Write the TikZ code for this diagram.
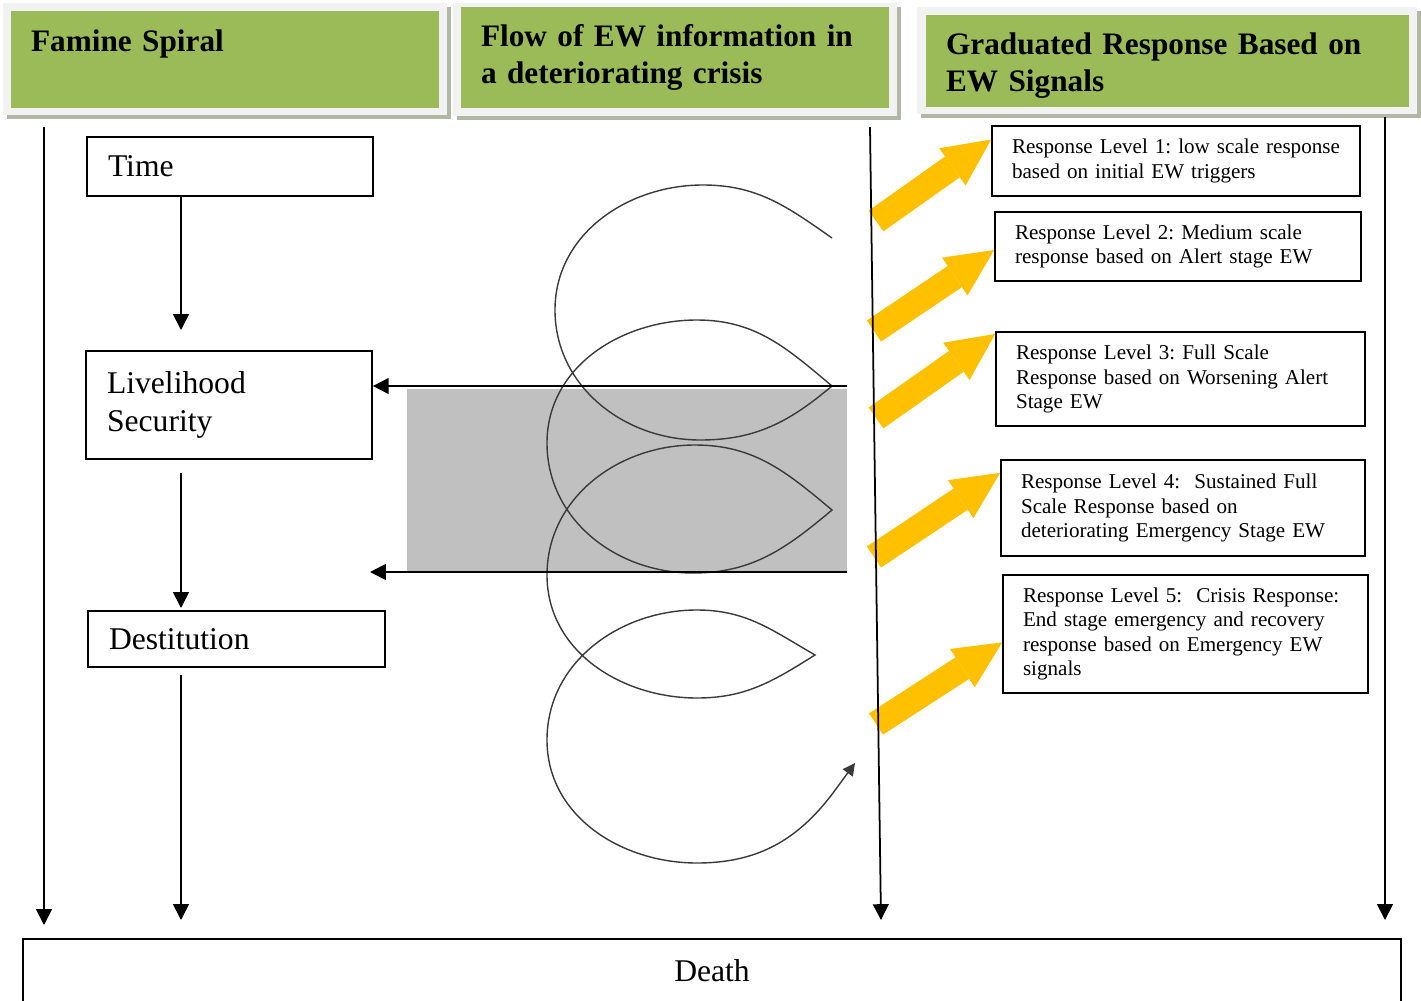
\documentclass[tikz,border=0pt]{standalone}
\usepackage{fontspec}
\setmainfont{Liberation Serif}
\usetikzlibrary{arrows.meta,calc}

\definecolor{headGreen}{HTML}{9BBB59}
\definecolor{headFrame}{HTML}{F2F2F2}
\definecolor{headShadow}{HTML}{B2B8A6}
\definecolor{flowGray}{HTML}{C0C0C0}
\definecolor{ewYellow}{HTML}{FFC000}
\definecolor{spiralGray}{HTML}{3A3A3A}

\begin{document}
\frenchspacing
\begin{tikzpicture}
[x=0.02cm,y=-0.02cm,
  lineDecorate/.style={-{Triangle[length=9pt,width=9pt]},line width=1pt},
  boxDecorate/.style={draw,line width=1pt,inner xsep=0.42cm,align=left,font=\fontsize{18}{22}\selectfont},
  levelDecorate/.style={draw,line width=1pt,inner xsep=0.4cm,align=left,font=\fontsize{12}{13.8}\selectfont},
  headDecorate/.style={fill=headGreen,inner xsep=0.4cm,align=left,font=\fontsize{17.8}{21}\selectfont\bfseries},
  ewDecorate/.style={ewYellow,line width=14.5pt,-{Triangle[length=27pt,width=26pt,line width=0pt]}},
  spiralDecorate/.style={spiralGray,line width=0.8pt}]
\useasboundingbox (0,0) rectangle (1421,1001);

%% header frames with shadow
\foreach \xa/\ya/\xb/\yb in {3/3/447/115, 453/3/897/116, 917/7/1417/114}
{
  \fill[headShadow] (\xa+4,\ya+4) rectangle (\xb+4,\yb+4);
  \fill[headFrame] (\xa,\ya) rectangle (\xb,\yb);
}

%% headers
\node[headDecorate,minimum width=8.56cm,minimum height=1.94cm,text width=7.76cm] (famHead) at (225,59.5) {Famine Spiral\\\mbox{}};
\node[headDecorate,minimum width=8.56cm,minimum height=2.02cm,text width=7.76cm] (flowHead) at (675,57.5) {Flow of EW information in\\a deteriorating crisis};
\node[headDecorate,minimum width=9.66cm,minimum height=1.84cm,text width=8.86cm,text height=18pt] (respHead) at (1167.5,61) {Graduated Response Based on\\EW Signals};

%% flow of information
\fill[flowGray] (407,389) rectangle (847,573);
\draw[spiralDecorate,-{Triangle[length=7pt,width=7pt]}]
  (832,238) to[out=145,in=0] (703,185) to[out=180,in=90] (555,310)
  to[out=270,in=180] (700,440) to[out=0,in=220] (832,386)
  to[out=140,in=0] (697,320) to[out=180,in=90] (547,443)
  to[out=270,in=180] (693,573) to[out=0,in=220] (832,510)
  to[out=140,in=0] (695,445) to[out=180,in=90] (547,575)
  to[out=270,in=180] (697,698) to[out=0,in=212] (815,655)
  to[out=150,in=0] (697,610) to[out=180,in=90] (547,740)
  to[out=270,in=180] (697,863) to[out=0,in=233] (833,793) -- (855,763);

%% famine spiral
\node[boxDecorate,minimum width=5.72cm,minimum height=1.18cm,text width=4.88cm] (time) at (230,166.5) {Time};
\node[boxDecorate,minimum width=5.72cm,minimum height=2.16cm,text width=4.88cm] (livelihood) at (229,405) {Livelihood\\Security};
\node[boxDecorate,minimum width=5.94cm,minimum height=1.12cm,text width=5.10cm] (destitution) at (236.5,639) {Destitution};
\node[boxDecorate,align=center,minimum width=27.56cm,minimum height=1.28cm] (death) at (712,971) {Death};

%% response levels
\foreach \name/\x/\y/\w/\h/\tw/\txt in {
  level1/1176/161/7.36/1.40/6.56/{Response Level 1: low scale response\\based on initial EW triggers},
  level2/1178/246.5/7.32/1.38/6.52/{Response Level 2: Medium scale\\response based on Alert stage EW},
  level3/1180.5/379/7.38/1.88/6.58/{Response Level 3: Full Scale\\Response based on Worsening Alert\\Stage EW},
  level4/1183/508/7.28/1.92/6.48/{Response Level 4:~ Sustained Full\\Scale Response based on\\deteriorating Emergency Stage EW},
  level5/1185.5/634/7.30/2.36/6.50/{Response Level 5:~ Crisis Response:\\End stage emergency and recovery\\response based on Emergency EW\\signals}}
{
  \node[levelDecorate,minimum width=\w cm,minimum height=\h cm,text width=\tw cm] (\name) at (\x,\y) {\hyphenpenalty=10000 \txt};
}

%% yellow arrows
\foreach \name/\tx/\ty/\f in {level1/876/221/0.2, level2/874/331/0.55, level3/876/418/0.03, level4/874/557/0.14, level5/876/724/0.57}
{
  \coordinate (\name Tail) at (\tx,\ty);
  \draw[ewDecorate] (\name Tail) -- ($(\name.north west)!\f!(\name.south west)$);
}

%% connectors
\coordinate (famTop) at (44,127);
\coordinate (famEnd) at (44,925);
\coordinate (timeEnd) at (181,330);
\coordinate (liveOut) at (181,473);
\coordinate (destIn) at (181,608);
\coordinate (destOut) at (181,675);
\coordinate (destEnd) at (181,920);
\coordinate (flowTop) at (870,127);
\coordinate (flowEnd) at (881,920);
\coordinate (respTop) at (1385,117);
\coordinate (respEnd) at (1385,920);
\coordinate (infoA) at (847,386);
\coordinate (infoB) at (847,572);
\coordinate (infoBEnd) at (370,572);

\draw[lineDecorate] (famTop) -- (famEnd);
\draw[lineDecorate] (time.south -| timeEnd) -- (timeEnd);
\draw[lineDecorate] (liveOut) -- (destIn);
\draw[lineDecorate] (destOut) -- (destEnd);
\draw[lineDecorate] (flowTop) -- (flowEnd);
\draw[lineDecorate] (respTop) -- (respEnd);
\draw[lineDecorate] (infoA) -- (infoA -| livelihood.east);
\draw[lineDecorate] (infoB) -- (infoBEnd);
\end{tikzpicture}
\end{document}
